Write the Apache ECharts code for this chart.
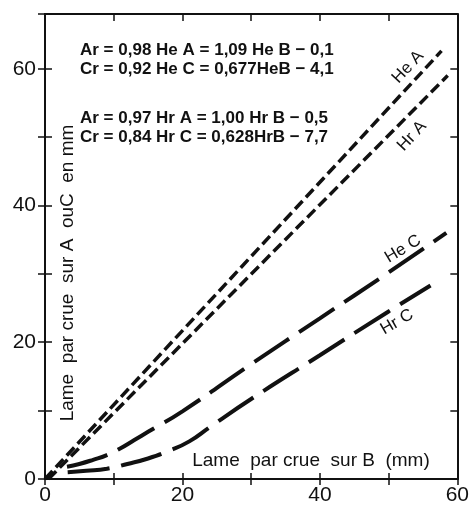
<!DOCTYPE html>
<html>
<head>
<meta charset="utf-8">
<script src="https://cdn.jsdelivr.net/npm/echarts@6/dist/echarts.min.js"></script>
<style>
html,body{margin:0;padding:0;background:#fff;}
#c{width:472px;height:507px;}
</style>
</head>
<body>
<div id="c"></div>
<script>
// Data (x = lame sur B, y = lame sur A ou C, mm)
const heA_B = [0, 57.7];
const heA_A = [0, 62.6];
const hrA_B = [0.5, 58.6];
const hrA_A = [0, 59.0];
const heC_B = [3.2, 5, 7, 9, 11, 13, 15, 20, 30, 40, 50, 58.4];
const heC_C = [1.8, 2.2, 2.8, 3.5, 4.5, 5.7, 6.9, 9.9, 16.8, 23.5, 30.2, 36.0];
const hrC_B = [3.3, 6, 9, 12, 15, 18, 21, 24, 30, 40, 50, 56.1];
const hrC_C = [1.0, 1.2, 1.5, 2.2, 3.0, 4.1, 5.5, 7.6, 11.7, 18.1, 24.5, 28.3];
const xTicks = [0, 20, 40, 60];
const yTicks = [0, 20, 40, 60];
const equations = [
  'Ar = 0,98 He A = 1,09 He B − 0,1',
  'Cr = 0,92 He C = 0,677HeB − 4,1',
  'Ar = 0,97 Hr A = 1,00 Hr B − 0,5',
  'Cr = 0,84 Hr C = 0,628HrB − 7,7'
];
const xName = 'Lame  par crue  sur B  (mm)';
const yName = 'Lame  par crue  sur A  ouC  en mm';

const zip = (a, b) => a.map((v, i) => [v, b[i]]);
const FONT = '"Liberation Sans", Arial, sans-serif';
const black = '#111';

const chart = echarts.init(document.getElementById('c'));
const lab = v => (xTicks.indexOf(v) >= 0 ? String(v) : '');
const labY = v => (yTicks.indexOf(v) >= 0 ? String(v) : '');

function axisBase(extra) {
  return Object.assign({
    type: 'value', min: 0, interval: 10,
    splitLine: { show: false },
    axisLine: { show: true, onZero: false, lineStyle: { color: black, width: 2 } },
    axisTick: { show: true, lineStyle: { color: black, width: 1.5 } },
    axisLabel: { show: false }
  }, extra);
}

chart.setOption({
  animation: false,
  backgroundColor: '#fff',
  grid: { left: 45, right: 13, top: 14, bottom: 28 },
  xAxis: [
    axisBase({ max: 60, position: 'bottom',
      axisTick: { show: true, inside: false, length: 6, lineStyle: { color: black, width: 1.5 } },
      axisLabel: { show: true, formatter: lab, color: black, fontSize: 21, fontFamily: FONT, margin: 6 } }),
    axisBase({ max: 60, position: 'bottom',
      axisTick: { show: true, inside: true, length: 6, lineStyle: { color: black, width: 1.5 } } }),
    axisBase({ max: 60, position: 'top',
      axisTick: { show: true, inside: true, length: 7, lineStyle: { color: black, width: 1.5 } } })
  ],
  yAxis: [
    axisBase({ max: 68, position: 'left',
      axisTick: { show: true, inside: false, length: 7, lineStyle: { color: black, width: 1.5 } },
      axisLabel: { show: true, formatter: labY, color: black, fontSize: 21, fontFamily: FONT, margin: 9 } }),
    axisBase({ max: 68, position: 'left',
      axisTick: { show: true, inside: true, length: 7, lineStyle: { color: black, width: 1.5 } } }),
    axisBase({ max: 68, position: 'right',
      axisTick: { show: true, inside: true, length: 7, lineStyle: { color: black, width: 1.5 } } })
  ],
  series: [
    { name: 'He A', type: 'line', data: zip(heA_B, heA_A), showSymbol: false, symbol: 'none',
      lineStyle: { color: black, width: 3.5, type: [11, 5], cap: 'butt' } },
    { name: 'Hr A', type: 'line', data: zip(hrA_B, hrA_A), showSymbol: false, symbol: 'none',
      lineStyle: { color: black, width: 3.5, type: [11, 5], cap: 'butt' } },
    { name: 'He C', type: 'line', data: zip(heC_B, heC_C), smooth: true, showSymbol: false, symbol: 'none',
      lineStyle: { color: black, width: 4, type: [42, 12], cap: 'butt' } },
    { name: 'Hr C', type: 'line', data: zip(hrC_B, hrC_C), smooth: true, showSymbol: false, symbol: 'none',
      lineStyle: { color: black, width: 4, type: [42, 12], cap: 'butt' } }
  ],
  graphic: [
    ...equations.map((t, i) => ({
      type: 'text', x: 80, y: [50, 69, 118, 137][i],
      style: { text: t, font: 'bold 17px ' + FONT, fill: black, verticalAlign: 'middle' }
    })),
    { type: 'text', x: 68, y: 273, rotation: Math.PI / 2,
      style: { text: yName, font: '19px ' + FONT, fill: black, align: 'center', verticalAlign: 'middle' } },
    { type: 'text', x: 311, y: 461,
      style: { text: xName, font: '19px ' + FONT, fill: black, align: 'center', verticalAlign: 'middle' } },
    { type: 'text', x: 408, y: 67, rotation: 47 * Math.PI / 180,
      style: { text: 'He A', font: '17px ' + FONT, fill: black, align: 'center', verticalAlign: 'middle' } },
    { type: 'text', x: 412, y: 136, rotation: 47 * Math.PI / 180,
      style: { text: 'Hr A', font: '17px ' + FONT, fill: black, align: 'center', verticalAlign: 'middle' } },
    { type: 'text', x: 403, y: 249, rotation: 31 * Math.PI / 180,
      style: { text: 'He C', font: '17px ' + FONT, fill: black, align: 'center', verticalAlign: 'middle' } },
    { type: 'text', x: 397, y: 322, rotation: 30 * Math.PI / 180,
      style: { text: 'Hr C', font: '17px ' + FONT, fill: black, align: 'center', verticalAlign: 'middle' } }
  ]
});
</script>
</body>
</html>
